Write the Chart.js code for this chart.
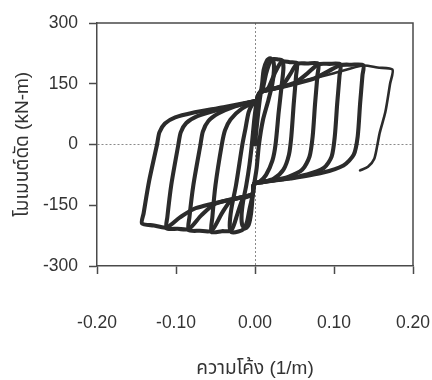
<!DOCTYPE html>
<html>
<head>
<meta charset="utf-8">
<script src="https://cdn.jsdelivr.net/npm/chart.js@4.4.1/dist/chart.umd.min.js"></script>
<style>
  html, body { margin: 0; padding: 0; background: #ffffff; }
  #wrap { width: 432px; height: 380px; }
</style>
</head>
<body>
<div id="wrap"><canvas id="chart" width="432" height="380"></canvas></div>
<script>
// Moment–curvature hysteresis: one array pair per loading cycle (curvature 1/m, moment kN-m)
const loop1Curvature = [0, 0.003, 0.006, 0.009, 0.011, 0.015, 0.019, 0.023, 0.024, 0.022, 0.017, 0.010, 0.005, 0.002, -0.001,
  -0.003, -0.005, -0.008, -0.012, -0.016, -0.017, -0.015, -0.011, -0.007, -0.004, -0.001, 0.002];
const loop1Moment = [0, 60, 110, 150, 185, 207, 213, 207, 185, 150, 110, 60, 0, -60, -97,
  -130, -170, -198, -207, -200, -175, -140, -100, -50, 0, 60, 108];

const loop2Curvature = [0.002, 0.006, 0.010, 0.014, 0.019, 0.024, 0.029, 0.034,
  0.036, 0.034, 0.030, 0.026, 0.022, 0.014, 0.006, -0.001,
  -0.003, -0.007, -0.010, -0.014, -0.021, -0.030,
  -0.032, -0.030, -0.024, -0.016, -0.012, -0.008, -0.003, 0.002];
const loop2Moment = [108, 128, 140, 175, 203, 211, 210, 208,
  190, 150, 80, 0, -40, -75, -92, -97,
  -125, -160, -190, -208, -215, -216,
  -200, -160, -100, 0, 40, 80, 100, 108];

const loop3Curvature = [0.002, 0.006, 0.012, 0.017, 0.026, 0.034, 0.044, 0.053,
  0.052, 0.049, 0.046, 0.043, 0.036, 0.024, 0.010, -0.001,
  -0.003, -0.008, -0.015, -0.022, -0.030, -0.042, -0.055,
  -0.054, -0.050, -0.042, -0.038, -0.031, -0.017, 0.002];
const loop3Moment = [108, 128, 134, 140, 180, 205, 203, 201,
  170, 100, 20, -25, -62, -84, -93, -97,
  -122, -128, -133, -170, -212, -214, -216,
  -180, -100, 0, 35, 62, 88, 108];

const loop4Curvature = [0.002, 0.006, 0.015, 0.034, 0.045, 0.053, 0.066, 0.080,
  0.079, 0.076, 0.073, 0.069, 0.060, 0.042, 0.020, -0.001,
  -0.003, -0.010, -0.030, -0.042, -0.055, -0.070, -0.084,
  -0.083, -0.078, -0.069, -0.066, -0.059, -0.046, -0.026, 0.002];
const loop4Moment = [108, 128, 134, 145, 175, 199, 200, 200,
  170, 100, 20, -30, -62, -80, -90, -97,
  -122, -128, -138, -170, -213, -213, -211,
  -180, -100, 0, 32, 58, 77, 94, 108];

const loop5Curvature = [0.002, 0.006, 0.020, 0.050, 0.066, 0.080, 0.094, 0.108,
  0.107, 0.104, 0.101, 0.097, 0.087, 0.066, 0.035, -0.001,
  -0.003, -0.010, -0.050, -0.068, -0.084, -0.098, -0.112,
  -0.111, -0.106, -0.097, -0.094, -0.087, -0.073, -0.050, -0.022, 0.002];
const loop5Moment = [108, 128, 136, 152, 175, 198, 199, 198,
  170, 100, 20, -30, -58, -74, -86, -97,
  -122, -127, -146, -175, -209, -208, -207,
  -180, -100, 0, 30, 53, 70, 84, 97, 108];

const loop6Curvature = [0.002, 0.006, 0.030, 0.075, 0.092, 0.108, 0.122, 0.137,
  0.136, 0.133, 0.130, 0.125, 0.112, 0.085, 0.045, -0.001,
  -0.003, -0.010, -0.075, -0.095, -0.112, -0.128, -0.143,
  -0.141, -0.134, -0.124, -0.121, -0.114, -0.101, -0.080, -0.040, 0.002];
const loop6Moment = [108, 128, 140, 163, 180, 196, 197, 196,
  170, 100, 20, -25, -52, -70, -84, -97,
  -122, -127, -157, -180, -205, -200, -195,
  -170, -90, 0, 30, 52, 67, 78, 92, 108];

const loop7Curvature = [0.002, 0.006, 0.050, 0.100, 0.137, 0.155, 0.174,
  0.171, 0.165, 0.158, 0.155, 0.151, 0.143, 0.133];
const loop7Moment = [108, 128, 151, 176, 195, 190, 185,
  150, 80, 30, 0, -35, -55, -64];

const xTicks = [-0.2, -0.1, 0, 0.1, 0.2];
const yTicks = [-300, -150, 0, 150, 300];
const xTitle = 'ความโค้ง (1/m)';
const yTitle = 'โมเมนต์ดัด (kN-m)';

const loops = [
  [loop1Curvature, loop1Moment], [loop2Curvature, loop2Moment], [loop3Curvature, loop3Moment],
  [loop4Curvature, loop4Moment], [loop5Curvature, loop5Moment], [loop6Curvature, loop6Moment],
  [loop7Curvature, loop7Moment]
];

const FONT = "'Liberation Sans', Arial, 'Noto Sans Thai', Garuda, Loma, 'Noto Sans', 'DejaVu Sans', sans-serif";
const INK = '#2b2b2b';
const AXIS = '#4a4a4a';

const datasets = loops.map(([xs, ys], k) => ({
  data: xs.map((x, i) => ({ x: x, y: ys[i] })),
  borderColor: INK,
  borderWidth: k === 6 ? 2.6 : 4.1,
  tension: 0.25,
  pointRadius: 0,
  fill: false,
  borderJoinStyle: 'round',
  borderCapStyle: 'round'
}));

// Frame on the top and right edges of the plot area
const framePlugin = {
  id: 'frame',
  afterDraw(chart) {
    const { ctx, chartArea: a } = chart;
    ctx.save();
    ctx.strokeStyle = AXIS;
    ctx.lineWidth = 1.5;
    ctx.beginPath();
    ctx.moveTo(a.left, a.top);
    ctx.lineTo(a.right, a.top);
    ctx.lineTo(a.right, a.bottom);
    ctx.stroke();
    ctx.restore();
  }
};

new Chart(document.getElementById('chart'), {
  type: 'line',
  data: { datasets },
  plugins: [framePlugin],
  options: {
    responsive: false,
    animation: false,
    events: [],
    layout: { padding: { top: 23, right: 19, left: 0, bottom: 0 } },
    plugins: { legend: { display: false }, tooltip: { enabled: false } },
    scales: {
      x: {
        type: 'linear',
        min: -0.2, max: 0.2,
        afterBuildTicks: s => { s.ticks = xTicks.map(v => ({ value: v })); },
        afterFit: s => { s.height = 114; s.paddingLeft = 0; s.paddingRight = 0; },
        ticks: {
          callback: v => v.toFixed(2),
          color: '#333', padding: 39, maxRotation: 0, autoSkip: false,
          font: { family: FONT, size: 17.5 }
        },
        grid: {
          color: c => (c.tick && c.tick.value === 0 ? '#8a8a8a' : 'rgba(0,0,0,0)'),
          lineWidth: 1, tickColor: AXIS, tickWidth: 1.5, tickLength: 8
        },
        border: { display: true, color: AXIS, width: 1.5, dash: [2, 2] },
        title: {
          display: true, text: xTitle, color: '#333',
          font: { family: FONT, size: 19, lineHeight: 1.2 },
          padding: { top: 0, bottom: 0 }
        }
      },
      y: {
        type: 'linear',
        min: -300, max: 300,
        afterBuildTicks: s => { s.ticks = yTicks.map(v => ({ value: v })); },
        afterFit: s => { s.width = 97; s.paddingTop = 0; s.paddingBottom = 0; },
        ticks: {
          color: '#333', padding: 11,
          font: { family: FONT, size: 17.5 }
        },
        grid: {
          color: c => (c.tick && c.tick.value === 0 ? '#8a8a8a' : 'rgba(0,0,0,0)'),
          lineWidth: 1, tickColor: AXIS, tickWidth: 1.5, tickLength: 8
        },
        border: { display: true, color: AXIS, width: 1.5, dash: [2, 2] },
        title: {
          display: true, text: yTitle, color: '#333',
          font: { family: FONT, size: 19, lineHeight: 1.2 },
          padding: { top: 11, bottom: 0 }
        }
      }
    }
  }
});
</script>
</body>
</html>
